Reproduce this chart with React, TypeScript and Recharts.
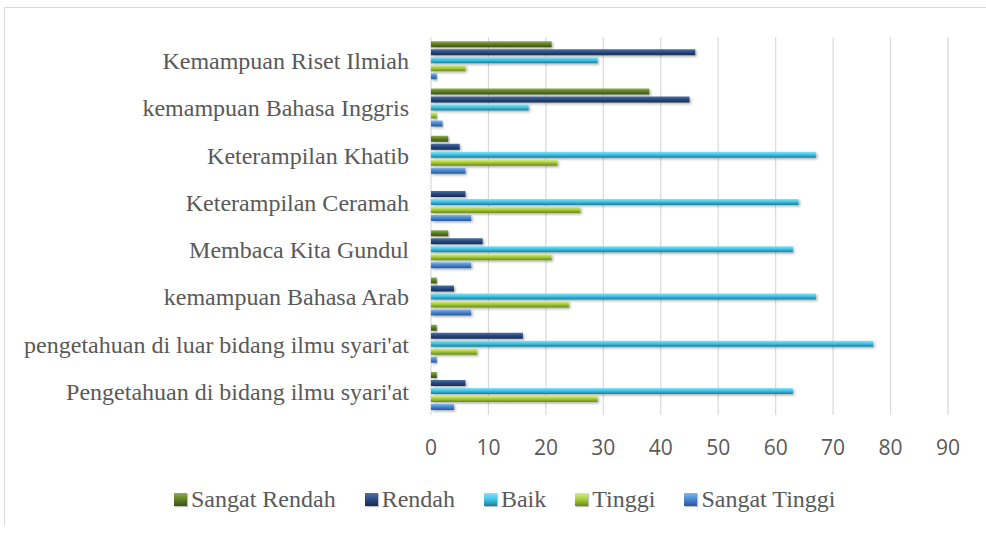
import React from 'react';
import { BarChart, Bar, XAxis, YAxis, CartesianGrid } from 'recharts';

// categories listed top to bottom as they appear in the chart
const categories = [
  'Kemampuan Riset Ilmiah',
  'kemampuan Bahasa Inggris',
  'Keterampilan Khatib',
  'Keterampilan Ceramah',
  'Membaca Kita Gundul',
  'kemampuan Bahasa Arab',
  "pengetahuan di luar bidang ilmu syari'at",
  "Pengetahuan di bidang ilmu syari'at",
];

const sangatRendah = [21, 38, 3, 0, 3, 1, 1, 1];
const rendah = [46, 45, 5, 6, 9, 4, 16, 6];
const baik = [29, 17, 67, 64, 63, 67, 77, 63];
const tinggi = [6, 1, 22, 26, 21, 24, 8, 29];
const sangatTinggi = [1, 2, 6, 7, 7, 7, 1, 4];

const xTicks = [0, 10, 20, 30, 40, 50, 60, 70, 80, 90];

const series = [
  { key: 'sangatRendah', name: 'Sangat Rendah', values: sangatRendah, light: '#8fae4c', mid: '#5f7f27', dark: '#3b5115' },
  { key: 'rendah', name: 'Rendah', values: rendah, light: '#4d72a8', mid: '#2a4b80', dark: '#172c52' },
  { key: 'baik', name: 'Baik', values: baik, light: '#86e3f8', mid: '#3fc4e7', dark: '#1e7d97' },
  { key: 'tinggi', name: 'Tinggi', values: tinggi, light: '#d4ef80', mid: '#a6cc3b', dark: '#68891b' },
  { key: 'sangatTinggi', name: 'Sangat Tinggi', values: sangatTinggi, light: '#80b6f0', mid: '#4a88d0', dark: '#285896' },
];

const data = categories.map((name, i) => {
  const row: Record<string, string | number> = { name };
  series.forEach((s) => {
    row[s.key] = s.values[i];
  });
  return row;
});

const SERIF = "'Liberation Serif', 'Times New Roman', serif";
const SANS = "'Open Sans', 'Noto Sans', sans-serif";
const TEXT = '#595959';

function LegendRow() {
  return (
    <div
      style={{
        position: 'absolute',
        left: 174,
        top: 487,
        display: 'flex',
        alignItems: 'center',
        gap: 29,
        fontFamily: SERIF,
        fontSize: 24,
        color: TEXT,
        lineHeight: '24px',
        whiteSpace: 'nowrap',
      }}
    >
      {series.map((s) => (
        <div key={s.key} style={{ display: 'flex', alignItems: 'center', gap: 4 }}>
          <span
            style={{
              display: 'inline-block',
              width: 13,
              height: 13,
              background: `linear-gradient(180deg, ${s.light} 0%, ${s.mid} 50%, ${s.dark} 100%)`,
              boxShadow: '1px 1px 1px rgba(0,0,0,0.25)',
            }}
          />
          <span>{s.name}</span>
        </div>
      ))}
    </div>
  );
}

export default function App() {
  return (
    <div style={{ position: 'absolute', left: 0, top: 0, width: 986, height: 534, background: '#fff', overflow: 'hidden' }}>
      <div
        style={{
          position: 'absolute',
          left: 4,
          top: 7,
          width: 982,
          height: 517,
          borderTop: '1px solid #d9d9d9',
          borderLeft: '1px solid #d9d9d9',
        }}
      />
      <div style={{ position: 'absolute', left: 0, top: 0 }}>
        <BarChart
          width={986}
          height={534}
          data={data}
          layout="vertical"
          margin={{ top: 37, right: 38, left: 0, bottom: 59 }}
          barCategoryGap="9%"
          barGap={2}
        >
          <defs>
            {series.map((s) => (
              <linearGradient key={s.key} id={`grad-${s.key}`} x1="0" y1="0" x2="0" y2="1">
                <stop offset="0%" stopColor={s.light} />
                <stop offset="45%" stopColor={s.mid} />
                <stop offset="100%" stopColor={s.dark} />
              </linearGradient>
            ))}
            <filter id="barShadow" x="-5%" y="-50%" width="115%" height="250%">
              <feDropShadow dx="1.5" dy="1.5" stdDeviation="1" floodColor="#000" floodOpacity="0.3" />
            </filter>
          </defs>
          <CartesianGrid horizontal={false} stroke="#d9d9d9" strokeWidth={1.2} />
          <XAxis
            type="number"
            domain={[0, 90]}
            ticks={xTicks}
            axisLine={false}
            tickLine={false}
            tickSize={0}
            tickMargin={25}
            height={60}
            tick={{ fill: TEXT, fontSize: 21, fontFamily: SANS }}
          />
          <YAxis
            type="category"
            dataKey="name"
            width={431}
            axisLine={false}
            tickLine={false}
            tickSize={0}
            tickMargin={22}
            interval={0}
            tick={{ fill: TEXT, fontSize: 24, fontFamily: SERIF }}
          />
          {series.map((s) => (
            <Bar
              key={s.key}
              dataKey={s.key}
              name={s.name}
              fill={`url(#grad-${s.key})`}
              filter="url(#barShadow)"
              isAnimationActive={false}
            />
          ))}
        </BarChart>
      </div>
      <LegendRow />
    </div>
  );
}
